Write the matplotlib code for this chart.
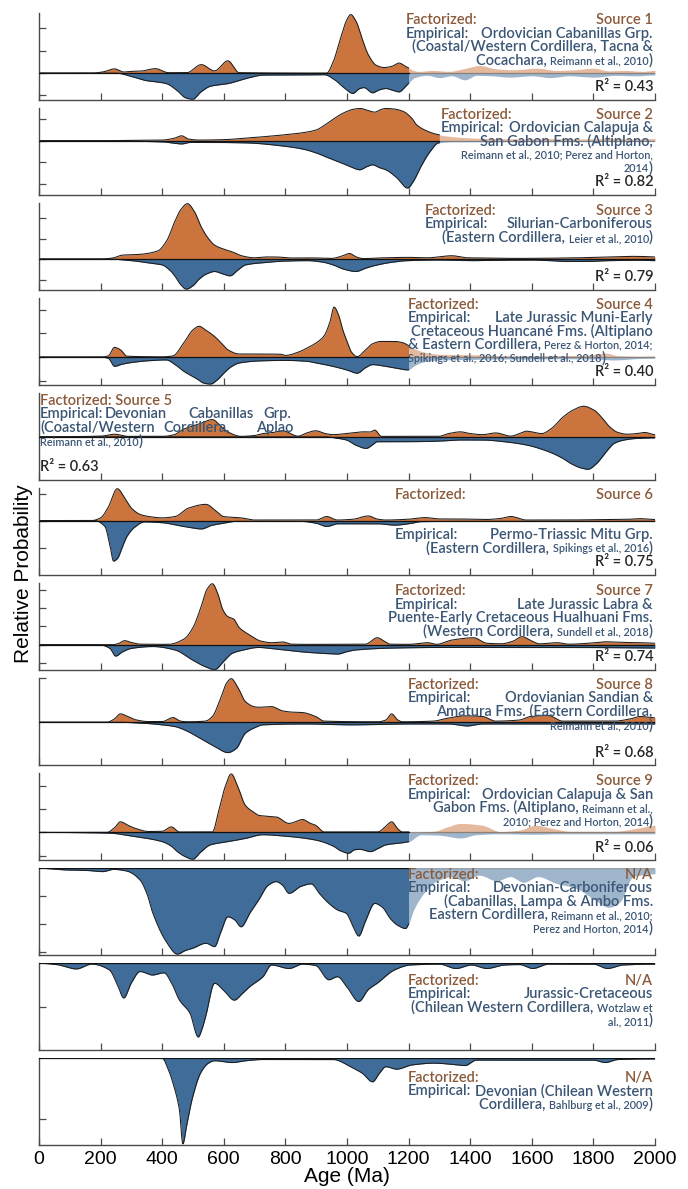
import numpy as np
import matplotlib
matplotlib.use("Agg")
import matplotlib.pyplot as plt
import matplotlib.transforms as mtransforms
from matplotlib.offsetbox import TextArea, HPacker, AnnotationBbox

# Detrital zircon age spectra: (age in Ma, relative probability).
# Values are in tick units of their own panel; empirical curves are drawn downwards.
F1 = [(0, 0), (170, 0), (210, 0.06), (245, 0.19), (275, 0.05), (300, 0.08), (330, 0.09), (378, 0.2),
      (420, 0.02), (480, 0.02), (527, 0.38), (570, 0.1), (613, 0.55), (650, 0.02), (934, 0), (955, 0.5),
      (980, 1.6), (1000, 2.4), (1012, 2.62), (1030, 2.3), (1050, 1.5), (1070, 0.8), (1095, 0.35),
      (1120, 0.25), (1145, 0.3), (1169, 0.45), (1190, 0.3), (1230, 0.08), (1280, 0.12), (1330, 0.08),
      (1380, 0.2), (1432, 0.34), (1480, 0.2), (1540, 0.15), (1617, 0.22), (1680, 0.12), (1740, 0.15),
      (1800, 0.22), (1850, 0.1), (1900, 0.12), (1960, 0.08), (2000, 0.12)]
E1 = [(0, 0), (250, 0), (300, 0.15), (342, 0.32), (413, 0.47), (450, 0.8), (475, 1.1), (499, 1.17),
      (525, 0.85), (556, 0.59), (613, 0.47), (684, 0.2), (727, 0.09), (870, 0.08), (926, 0.07),
      (960, 0.3), (990, 0.65), (1019, 0.91), (1040, 0.7), (1055, 0.65), (1083, 0.88), (1105, 0.75),
      (1126, 0.69), (1150, 0.78), (1169, 0.84), (1190, 0.6), (1220, 0.2), (1260, 0.1), (1300, 0.2),
      (1340, 0.12), (1383, 0.3), (1420, 0.1), (1470, 0.12), (1530, 0.18), (1600, 0.12), (1660, 0.2),
      (1720, 0.12), (1800, 0.18), (1870, 0.1), (1940, 0.12), (2000, 0.08)]

F2 = [(0, 0), (200, 0), (300, 0.02), (400, 0.03), (440, 0.12), (463, 0.23), (485, 0.08), (520, 0.03),
      (600, 0.05), (670, 0.12), (740, 0.2), (800, 0.28), (860, 0.38), (900, 0.5), (930, 0.75),
      (955, 1.0), (990, 1.3), (1020, 1.46), (1043, 1.5), (1065, 1.42), (1090, 1.33), (1110, 1.45),
      (1126, 1.5), (1150, 1.48), (1183, 1.36), (1210, 1.05), (1226, 0.74), (1260, 0.45), (1297, 0.28),
      (1350, 0.18), (1420, 0.12), (1500, 0.1), (1580, 0.08), (1650, 0.1), (1750, 0.08), (1850, 0.1),
      (1950, 0.08), (2000, 0.1)]
E2 = [(0, 0), (250, 0), (330, 0.03), (400, 0.05), (440, 0.12), (463, 0.15), (490, 0.08), (560, 0.08),
      (670, 0.1), (800, 0.26), (860, 0.4), (900, 0.57), (940, 0.8), (983, 1.04), (1010, 1.2),
      (1041, 1.35), (1065, 1.2), (1083, 1.12), (1105, 1.25), (1126, 1.35), (1160, 1.7), (1197, 2.2),
      (1215, 1.9), (1240, 1.2), (1270, 0.5), (1297, 0.1), (1350, 0.05), (1400, 0.05), (2000, 0.03)]

F3 = [(0, 0), (200, 0), (240, 0.05), (271, 0.19), (320, 0.22), (385, 0.39), (415, 0.9), (440, 1.8),
      (460, 2.4), (482, 2.7), (505, 2.3), (527, 1.56), (550, 1.0), (570, 0.68), (600, 0.48), (627, 0.35),
      (660, 0.15), (698, 0.06), (740, 0.1), (770, 0.1), (820, 0.05), (870, 0.06), (950, 0.03),
      (985, 0.15), (1008, 0.27), (1030, 0.1), (1055, 0.02), (1100, 0.05), (1200, 0.08), (1260, 0.06),
      (1340, 0.16), (1390, 0.06), (1450, 0.05), (1550, 0.03), (1650, 0.04), (1750, 0.06), (1850, 0.1),
      (1920, 0.13), (1970, 0.12), (2000, 0.1)]
E3 = [(0, 0), (220, 0), (300, 0.08), (360, 0.2), (400, 0.29), (425, 0.55), (442, 0.85), (460, 1.25),
      (478, 1.47), (500, 1.3), (520, 0.98), (545, 0.72), (570, 0.61), (595, 0.72), (620, 0.82),
      (645, 0.55), (670, 0.29), (727, 0.18), (784, 0.11), (870, 0.08), (920, 0.15), (955, 0.29),
      (990, 0.5), (1029, 0.61), (1060, 0.45), (1098, 0.29), (1150, 0.15), (1197, 0.08), (1300, 0.05),
      (1400, 0.08), (1500, 0.06), (1600, 0.05), (1660, 0.08), (1710, 0.12), (1780, 0.12), (1850, 0.08),
      (1950, 0.06), (2000, 0.08)]

F4 = [(0, 0), (200, 0), (225, 0.05), (245, 0.41), (265, 0.3), (285, 0.04), (330, 0.02), (400, 0.01),
      (435, 0.05), (470, 0.6), (500, 1.15), (520, 1.3), (540, 1.15), (570, 0.87), (595, 0.55), (613, 0.31),
      (650, 0.13), (700, 0.13), (784, 0.12), (800, 0.07), (840, 0.2), (870, 0.38), (900, 0.6),
      (926, 0.9), (945, 1.5), (958, 2.11), (972, 1.8), (985, 1.2), (998, 0.73), (1015, 0.2), (1033, 0.02),
      (1060, 0.3), (1083, 0.56), (1110, 0.66), (1155, 0.66), (1183, 0.6), (1204, 0.45), (1240, 0.25),
      (1300, 0.12), (1400, 0.1), (1500, 0.06), (1600, 0.05), (1700, 0.06), (1780, 0.08), (1838, 0.17),
      (1880, 0.06), (1950, 0.04), (2000, 0.05)]
E4 = [(0, 0), (200, 0), (225, 0.05), (245, 0.39), (270, 0.3), (300, 0.23), (360, 0.15), (413, 0.12),
      (440, 0.3), (470, 0.6), (510, 0.9), (535, 1.1), (556, 1.14), (580, 0.95), (600, 0.68), (625, 0.4),
      (650, 0.25), (720, 0.16), (800, 0.14), (870, 0.18), (900, 0.25), (950, 0.38), (998, 0.54),
      (1033, 0.68), (1060, 0.45), (1083, 0.32), (1120, 0.38), (1155, 0.46), (1197, 0.54), (1220, 0.35),
      (1250, 0.2), (1300, 0.12), (1400, 0.1), (1500, 0.08), (1600, 0.08), (1700, 0.07), (1800, 0.08),
      (1867, 0.12), (1950, 0.06), (2000, 0.05)]

F5 = [(0, 0), (200, 0.03), (245, 0.12), (290, 0.02), (400, 0.02), (440, 0.1), (463, 0.31), (520, 0.6),
      (563, 0.8), (590, 0.5), (613, 0.23), (656, 0.02), (700, 0.06), (727, 0.15), (760, 0.2),
      (791, 0.28), (841, 0.03), (870, 0.18), (898, 0.28), (930, 0.15), (955, 0.1), (1012, 0.18),
      (1055, 0.23), (1075, 0.22), (1090, 0.31), (1112, 0.02), (1297, 0.02), (1330, 0.15), (1368, 0.23),
      (1400, 0.15), (1440, 0.1), (1483, 0.18), (1532, 0.03), (1560, 0.15), (1582, 0.26), (1632, 0.15),
      (1665, 0.4), (1700, 0.9), (1735, 1.25), (1768, 1.42), (1803, 1.23), (1830, 0.85), (1853, 0.46),
      (1880, 0.2), (1910, 0.12), (1940, 0.15), (1967, 0.2), (2000, 0.1)]
E5 = [(0, 0), (930, 0), (960, 0.05), (998, 0.15), (1030, 0.4), (1062, 0.54), (1085, 0.35), (1098, 0.23),
      (1155, 0.23), (1250, 0.22), (1300, 0.2), (1368, 0.15), (1440, 0.15), (1511, 0.23), (1582, 0.38),
      (1654, 0.69), (1700, 1.0), (1725, 1.23), (1760, 1.45), (1782, 1.51), (1810, 1.25), (1825, 1.0),
      (1850, 0.55), (1867, 0.31), (1900, 0.15), (1938, 0.08), (2000, 0.05)]

F6 = [(0, 0), (171, 0), (200, 0.1), (225, 0.5), (254, 1.18), (280, 0.8), (300, 0.46), (330, 0.22),
      (356, 0.15), (400, 0.1), (442, 0.15), (485, 0.46), (542, 0.6), (575, 0.35), (599, 0.15),
      (656, 0.1), (700, 0.02), (900, 0.02), (934, 0.15), (969, 0.02), (1020, 0.05), (1069, 0.17),
      (1100, 0.05), (1126, 0.02), (1200, 0.05), (1254, 0.11), (1300, 0.06), (1354, 0.06), (1450, 0.04),
      (1500, 0.08), (1532, 0.15), (1582, 0.02), (1700, 0.02), (1800, 0.03), (1900, 0.04), (1952, 0.07),
      (2000, 0.04)]
E6 = [(0, 0), (180, 0), (214, 0.22), (230, 0.9), (242, 1.5), (255, 1.4), (270, 1.0), (285, 0.6),
      (310, 0.25), (342, 0.05), (400, 0.08), (470, 0.22), (527, 0.31), (560, 0.18), (599, 0.1),
      (640, 0.03), (850, 0.03), (900, 0.1), (934, 0.22), (970, 0.12), (1100, 0.12), (1155, 0.17),
      (1210, 0.1), (1240, 0.04), (1400, 0.03), (2000, 0.03)]

F7 = [(0, 0), (240, 0), (260, 0.08), (278, 0.22), (300, 0.12), (330, 0.03), (420, 0.02), (470, 0.3),
      (499, 0.9), (525, 2.0), (545, 3.0), (563, 3.32), (580, 2.8), (597, 1.9), (613, 1.53), (632, 1.4),
      (649, 0.95), (684, 0.53), (720, 0.2), (755, 0.11), (791, 0.15), (820, 0.03), (870, 0.02),
      (1060, 0.03), (1098, 0.38), (1125, 0.15), (1140, 0.03), (1200, 0.02), (1262, 0.11), (1290, 0.02),
      (1340, 0.25), (1411, 0.38), (1454, 0.08), (1500, 0.05), (1540, 0.2), (1568, 0.44), (1600, 0.2),
      (1625, 0.05), (1682, 0.11), (1720, 0.03), (1800, 0.1), (1838, 0.16), (1900, 0.12), (1952, 0.11),
      (2000, 0.08)]
E7 = [(0, 0), (200, 0.02), (230, 0.2), (249, 0.62), (270, 0.4), (300, 0.2), (370, 0.1), (442, 0.29),
      (499, 0.84), (540, 1.2), (570, 1.36), (600, 0.9), (627, 0.47), (660, 0.3), (713, 0.15), (760, 0.22),
      (798, 0.29), (860, 0.4), (930, 0.48), (969, 0.51), (1000, 0.38), (1026, 0.29), (1155, 0.18),
      (1297, 0.15), (1400, 0.15), (1511, 0.15), (1725, 0.15), (1850, 0.16), (2000, 0.18)]

F8 = [(0, 0), (220, 0), (245, 0.15), (264, 0.38), (290, 0.25), (314, 0.11), (356, 0.03), (400, 0.03),
      (435, 0.21), (460, 0.05), (480, 0.02), (540, 0.05), (563, 0.26), (590, 1.1), (610, 1.8),
      (624, 1.98), (645, 1.6), (670, 0.94), (700, 0.7), (713, 0.68), (740, 0.7), (755, 0.71), (790, 0.52),
      (820, 0.46), (855, 0.44), (898, 0.26), (926, 0.05), (1100, 0.02), (1126, 0.1), (1145, 0.38),
      (1165, 0.1), (1180, 0.02), (1280, 0.05), (1326, 0.18), (1383, 0.29), (1440, 0.26), (1483, 0.05),
      (1560, 0.1), (1596, 0.26), (1654, 0.3), (1700, 0.05), (1867, 0.05), (1920, 0.15), (1952, 0.26),
      (2000, 0.2)]
E8 = [(0, 0), (250, 0), (342, 0.05), (400, 0.12), (442, 0.2), (480, 0.4), (513, 0.65), (570, 1.1),
      (613, 1.38), (640, 1.2), (670, 0.5), (700, 0.25), (727, 0.12), (870, 0.08), (1012, 0.12),
      (1200, 0.08), (1330, 0.08), (1390, 0.17), (1440, 0.08), (2000, 0.08)]

F9 = [(0, 0), (220, 0), (245, 0.2), (264, 0.46), (290, 0.3), (314, 0.17), (356, 0.04), (400, 0.05),
      (430, 0.24), (456, 0.02), (563, 0.02), (584, 0.96), (605, 2.0), (624, 2.53), (645, 2.0),
      (670, 1.17), (700, 0.85), (713, 0.74), (740, 0.7), (770, 0.67), (812, 0.39), (840, 0.5),
      (855, 0.56), (880, 0.4), (898, 0.31), (926, 0.02), (1100, 0.02), (1125, 0.25), (1145, 0.46),
      (1165, 0.15), (1180, 0.02), (1280, 0.05), (1326, 0.24), (1368, 0.39), (1440, 0.31), (1497, 0.04),
      (1560, 0.1), (1611, 0.31), (1668, 0.17), (1725, 0.05), (1867, 0.05), (1950, 0.2), (2000, 0.31)]
E9 = [(0, 0), (228, 0.03), (300, 0.16), (400, 0.4), (430, 0.6), (449, 0.83), (475, 1.05), (499, 1.16),
      (525, 0.85), (556, 0.54), (613, 0.4), (670, 0.26), (727, 0.1), (798, 0.16), (898, 0.33),
      (955, 0.59), (980, 0.8), (1005, 0.9), (1025, 0.75), (1041, 0.73), (1076, 0.83), (1100, 0.7),
      (1126, 0.54), (1183, 0.44), (1200, 0.4), (1240, 0.1), (1300, 0.12), (1368, 0.24), (1420, 0.1),
      (1500, 0.06), (1600, 0.08), (1700, 0.06), (2000, 0.06)]

E10 = [(0, 0), (86, 0.06), (157, 0.08), (207, 0.12), (242, 0.04), (285, 0.1), (328, 0.42), (350, 0.9),
       (370, 1.62), (413, 2.63), (449, 3.08), (475, 2.95), (499, 2.87), (542, 2.69), (570, 2.81),
       (590, 2.3), (613, 1.74), (635, 1.85), (656, 2.1), (685, 1.6), (713, 1.14), (745, 0.6), (770, 0.48),
       (790, 0.6), (812, 0.9), (850, 0.65), (884, 0.56), (910, 0.9), (941, 1.26), (970, 1.5), (998, 1.62),
       (1020, 2.1), (1038, 2.43), (1060, 1.9), (1090, 1.26), (1115, 1.4), (1140, 1.8), (1165, 2.05),
       (1190, 2.16), (1200, 2.0), (1216, 1.5), (1249, 0.9), (1292, 0.45), (1340, 0.3), (1380, 0.45),
       (1430, 0.25), (1486, 0.45), (1530, 0.3), (1573, 0.5), (1620, 0.3), (1681, 0.55), (1740, 0.7),
       (1800, 1.1), (1850, 1.4), (1886, 1.2), (1929, 0.3), (2000, 0.2)]

E11 = [(0, 0), (57, 0.03), (121, 0.13), (171, 0.02), (228, 0.15), (255, 0.5), (275, 0.8), (300, 0.45),
       (328, 0.19), (368, 0.27), (406, 0.22), (430, 0.45), (456, 0.85), (490, 1.15), (517, 1.7),
       (530, 1.5), (542, 1.2), (570, 0.46), (599, 0.62), (634, 0.85), (660, 0.7), (684, 0.54), (727, 0.31),
       (755, 0.04), (812, 0.12), (855, 0.02), (898, 0.05), (941, 0.38), (969, 0.31), (1000, 0.55),
       (1038, 0.88), (1070, 0.6), (1098, 0.46), (1155, 0.15), (1204, 0.04), (1300, 0.02), (1354, 0.12),
       (1404, 0.04), (1454, 0.12), (1511, 0.04), (1560, 0.03), (1603, 0.12), (1654, 0.02), (1800, 0.02),
       (1846, 0.12), (1895, 0.04), (2000, 0.02)]

E12 = [(0, 0), (400, 0), (420, 0.19), (440, 0.5), (456, 0.86), (467, 1.42), (480, 1.1), (499, 0.64),
       (527, 0.22), (550, 0.08), (570, 0.04), (627, 0.07), (670, 0.04), (727, 0.02), (955, 0.02),
       (1012, 0.14), (1050, 0.25), (1083, 0.39), (1105, 0.25), (1126, 0.14), (1161, 0.18), (1211, 0.11),
       (1283, 0.08), (1340, 0.1), (1383, 0.12), (1420, 0.03), (1800, 0.03), (1838, 0.07), (1880, 0.02),
       (2000, 0.01)]

FACTORIZED = [F1, F2, F3, F4, F5, F6, F7, F8, F9, None, None, None]
EMPIRICAL = [E1, E2, E3, E4, E5, E6, E7, E8, E9, E10, E11, E12]
R2 = ["0.43", "0.82", "0.79", "0.40", "0.63", "0.75", "0.74", "0.68", "0.06", None, None, None]
SOURCE = ["Source 1", "Source 2", "Source 3", "Source 4", "Source 5", "Source 6", "Source 7",
          "Source 8", "Source 9", "N/A", "N/A", "N/A"]
# age (Ma) past which a spectrum is drawn faded; None = drawn in full
FADE_FROM = [1200, 1300, None, 1200, None, None, None, None, 1200, 1200, None, None]
XTICKS = list(range(0, 2001, 200))

# empirical sample descriptions, one list of text runs per line ("s" = small citation text,
# a leading "<" run = line aligned left under "Empirical:")
DESC = [
    [[("Ordovician Cabanillas Grp.", "b")],
     [("(Coastal/Western Cordillera, Tacna &", "b")],
     [("Cocachara, ", "b"), ("Reimann et al., 2010", "s"), (")", "b")]],
    [[("Ordovician Calapuja &", "b")],
     [("San Gabon Fms. (Altiplano,", "b")],
     [("Reimann et al., 2010; Perez and Horton,", "s")],
     [("2014", "s"), (")", "b")]],
    [[("Silurian-Carboniferous", "b")],
     [("(Eastern Cordillera, ", "b"), ("Leier et al., 2010", "s"), (")", "b")]],
    [[("Late Jurassic Muni-Early", "b")],
     [("Cretaceous Huancané Fms. (Altiplano", "b")],
     [("& Eastern Cordillera, ", "b"), ("Perez & Horton, 2014;", "s")],
     [("<", ""), ("Spikings et al., 2016; Sundell et al., 2018", "s"), (")", "b")]],
    None,
    [[("Permo-Triassic Mitu Grp.", "b")],
     [("(Eastern Cordillera, ", "b"), ("Spikings et al., 2016", "s"), (")", "b")]],
    [[("Late Jurassic Labra &", "b")],
     [("Puente-Early Cretaceous Hualhuani Fms.", "b")],
     [("(Western Cordillera, ", "b"), ("Sundell et al., 2018", "s"), (")", "b")]],
    [[("Ordovianian Sandian &", "b")],
     [("Amatura Fms. (Eastern Cordillera,", "b")],
     [("Reimann et al., 2010", "s"), (")", "b")]],
    [[("Ordovician Calapuja & San", "b")],
     [("Gabon Fms. (Altiplano, ", "b"), ("Reimann et al.,", "s")],
     [("2010; Perez and Horton, 2014", "s"), (")", "b")]],
    [[("Devonian-Carboniferous", "b")],
     [("(Cabanillas, Lampa & Ambo Fms.", "b")],
     [("Eastern Cordillera, ", "b"), ("Reimann et al., 2010;", "s")],
     [("Perez and Horton, 2014", "s"), (")", "b")]],
    [[("Jurassic-Cretaceous", "b")],
     [("(Chilean Western Cordillera, ", "b"), ("Wotzlaw et", "s")],
     [("al., 2011", "s"), (")", "b")]],
    [[("Devonian (Chilean Western", "b")],
     [("Cordillera, ", "b"), ("Bahlburg et al., 2009", "s"), (")", "b")]],
]

ORANGE = "#CB743D"
BLUE = "#3F6C98"
BROWN = "#8A5A3A"
SLATE = "#3B5675"
FONT = ["Lato", "DejaVu Sans"]
WEIGHT = "semibold"
BIG, SMALL = 10.5, 7.8

# layout in pixels of a 688 x 1189 canvas
W, H = 688, 1189
AX_L, AX_R = 39, 655
TOP0, PITCH, PH = 13, 95.03, 86.7
YLIM = [(-1.19, 2.69), (-2.51, 1.52), (-1.5, 2.73), (-1.17, 2.49), (-2.0, 2.03), (-2.01, 1.2),
        (-1.37, 3.35), (-1.94, 2.0), (-1.19, 2.56), (-3.11, 0), (-2.0, 0), (-1.44, 0)]
YTICKS = [[-1, 0, 1, 2], [-2, -1, 0, 1], [-1, 0, 1, 2], [-1, 0, 1, 2], [], [-1, 0, 1],
          [-1, 0, 1, 2, 3], [2], [-1, 0, 1, 2], [-3, -2, -1], [-1], [-1]]
LABEL_X = [1190, 1304, 1252, 1197, 0, 1155, 1155, 1197, 1197, 1197, 1197, 1197]
LABEL_Y = [0.917, 0.923, 0.908, 0.923, 0.908, 0.923, 0.908, 0.923, 0.908, 0.923, 0.80, 0.776]
STEP = 0.154


def pchip(xk, yk, x):
    xk = np.asarray(xk, float)
    yk = np.asarray(yk, float)
    h = np.diff(xk)
    d = np.diff(yk) / h
    m = np.zeros_like(yk)
    for k in range(1, len(xk) - 1):
        if d[k - 1] * d[k] > 0:
            w1 = 2 * h[k] + h[k - 1]
            w2 = h[k] + 2 * h[k - 1]
            m[k] = (w1 + w2) / (w1 / d[k - 1] + w2 / d[k])
    i = np.clip(np.searchsorted(xk, x, side="right") - 1, 0, len(h) - 1)
    t = (x - xk[i]) / h[i]
    h00 = 2 * t**3 - 3 * t**2 + 1
    h10 = t**3 - 2 * t**2 + t
    h01 = -2 * t**3 + 3 * t**2
    h11 = t**3 - t**2
    return h00 * yk[i] + h10 * h[i] * m[i] + h01 * yk[i + 1] + h11 * h[i] * m[i + 1]


def draw_curve(ax, pts, sign, color, fade_from):
    age = np.linspace(0, 2000, 2001)
    ak, vk = zip(*pts)
    y = sign * np.clip(pchip(ak, vk, age), 0, None)
    if fade_from is not None:
        lo = age <= fade_from
        hi = age >= fade_from
        ax.fill_between(age[lo], 0, y[lo], color=color, lw=0)
        ax.fill_between(age[hi], 0, y[hi], color=color, alpha=0.5, lw=0)
        ax.plot(age[lo], y[lo], color="#1c1c1c", lw=0.75)
    else:
        ax.fill_between(age, 0, y, color=color, lw=0)
        ax.plot(age, y, color="#1c1c1c", lw=0.75)


def text_line(ax, x, y, runs, color, right=True):
    trans = mtransforms.blended_transform_factory(ax.transData, ax.transAxes)
    if runs[0][0] == "<":
        right = False
        runs = runs[1:]
    boxes = [TextArea(s, textprops=dict(fontsize=BIG if k == "b" else SMALL, color=color,
                                        family=FONT, weight=WEIGHT))
             for s, k in runs]
    pack = HPacker(children=boxes, align="baseline", pad=0, sep=0)
    ab = AnnotationBbox(pack, (x, y), xycoords=trans, box_alignment=(1 if right else 0, 0.5),
                        frameon=False, pad=0, annotation_clip=False)
    ax.add_artist(ab)


def label(ax, x, y, s, color, ha="left", trans=None):
    ax.text(x, y, s, color=color, fontsize=BIG, family=FONT, weight=WEIGHT, va="center", ha=ha,
            transform=trans)


fig = plt.figure(figsize=(W / 100, H / 100), dpi=100)
for i in range(12):
    top = TOP0 + PITCH * i
    ax = fig.add_axes([AX_L / W, 1 - (top + PH) / H, (AX_R - AX_L) / W, PH / H])
    ax.set_xlim(0, 2000)
    ax.set_ylim(*YLIM[i])
    for s in ("top", "right"):
        ax.spines[s].set_visible(False)
    for s in ("left", "bottom"):
        ax.spines[s].set_color("#4a4a4a")
        ax.spines[s].set_linewidth(1.0)
    ax.set_xticks(XTICKS)
    ax.set_yticks(YTICKS[i])
    ax.set_yticklabels([])
    ax.tick_params(direction="in", length=5, width=0.9, color="#4a4a4a")
    if i < 11:
        ax.set_xticklabels([])
    else:
        ax.tick_params(axis="x", labelsize=14, pad=4)
        for lab in ax.get_xticklabels():
            lab.set_family(["Liberation Sans", "DejaVu Sans"])

    fade = FADE_FROM[i]
    if FACTORIZED[i] is not None:
        draw_curve(ax, FACTORIZED[i], 1, ORANGE, fade)
    draw_curve(ax, EMPIRICAL[i], -1, BLUE, fade)
    if fade is not None:
        ax.plot([0, fade], [0, 0], color="#111111", lw=0.9, zorder=3)
        ax.plot([fade, 2000], [0, 0], color="#111111", lw=0.9, alpha=0.35, zorder=3)
    else:
        ax.axhline(0, color="#111111", lw=0.9, zorder=3)

    tr = mtransforms.blended_transform_factory(ax.transData, ax.transAxes)
    y0 = LABEL_Y[i]
    if i == 4:
        # left-aligned, justified block
        label(ax, 3, y0, "Factorized: Source 5", BROWN, trans=tr)
        for w, a in zip(["Empirical:", "Devonian", "Cabanillas", "Grp."], [3, 212, 485, 727]):
            label(ax, a, y0 - STEP, w, SLATE, trans=tr)
        for w, a in zip(["(Coastal/Western", "Cordillera,", "Aplao"], [3, 405, 706]):
            label(ax, a, y0 - 2 * STEP, w, SLATE, trans=tr)
        text_line(ax, 3, 0.44, [("<", ""), ("Reimann et al., 2010", "s"), (")", "b")], SLATE)
        label(ax, 3, 0.146, "R² = " + R2[i], "#262626", trans=tr)
        continue

    x0 = LABEL_X[i]
    label(ax, x0, y0, "Factorized:", BROWN, trans=tr)
    label(ax, 0.997, y0, SOURCE[i], BROWN, ha="right", trans=ax.transAxes)
    ye = 0.461 if i == 5 else y0 - STEP
    label(ax, x0, ye, "Empirical:", SLATE, trans=tr)
    for k, runs in enumerate(DESC[i]):
        yy = ye - k * STEP
        if runs[0][0] == "<":
            text_line(ax, x0, yy, runs, SLATE)
        else:
            text_line(ax, 1993, yy, runs, SLATE)
    if R2[i] is not None:
        label(ax, 0.997, 0.143, "R² = " + R2[i], "#262626", ha="right", trans=ax.transAxes)

fig.text(24 / W, 1 - 574 / H, "Relative Probability", rotation=90, fontsize=15,
         family=["Liberation Sans", "DejaVu Sans"], ha="center", va="center")
fig.text((AX_L + AX_R) / 2 / W, 1 - 1177 / H, "Age (Ma)", fontsize=15,
         family=["Liberation Sans", "DejaVu Sans"], ha="center", va="center")

fig.savefig("out.png", dpi=100, facecolor="white")
